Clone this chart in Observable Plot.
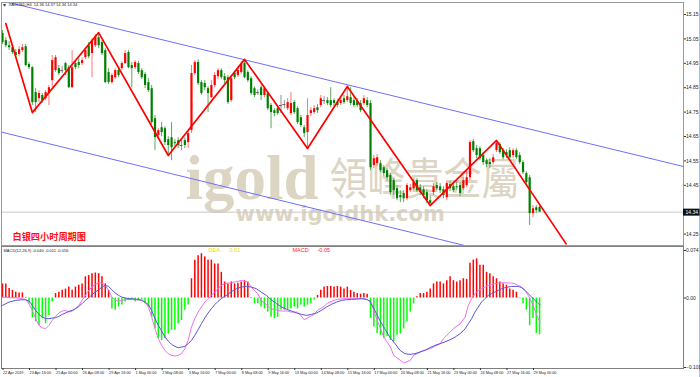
<!DOCTYPE html>
<html><head><meta charset="utf-8">
<script src="https://cdn.jsdelivr.net/npm/d3@7"></script>
<script src="https://cdn.jsdelivr.net/npm/@observablehq/plot@0.6"></script>
<style>
html,body{margin:0;padding:0;background:#fff;}
#wrap{position:relative;width:700px;height:377px;overflow:hidden;background:#fff;}
#wrap svg{position:absolute;left:0;}
#edge{position:absolute;left:699px;top:0;width:1px;height:377px;background:#a9c4e4;}
</style></head><body><div id="wrap"><div id="edge"></div></div>
<script>
// ---------- DATA ----------
const symbolHeader = "XAGUSD,H4  14.36 14.37 14.34 14.34";
const chartTitle = "白银四小时周期图";
const wmLogo = "igold", wmCn = "領峰貴金屬", wmUrl = "www.igoldhk.com";

const open = [15.072,15.043,15.022,15.014,14.994,14.986,15.002,15.018,14.945,14.932,14.830,14.805,14.818,14.805,14.826,14.879,14.920,14.928,14.920,14.949,14.932,14.850,14.949,14.953,14.949,14.973,15.022,14.990,15.022,15.055,15.035,15.002,14.912,14.871,14.891,14.920,14.928,14.949,14.994,14.941,14.932,14.949,14.920,14.904,14.871,14.846,14.723,14.654,14.686,14.682,14.637,14.645,14.625,14.633,14.613,14.633,14.625,14.674,14.908,14.953,14.871,14.867,14.846,14.809,14.859,14.895,14.920,14.895,14.891,14.797,14.908,14.900,14.912,14.949,14.912,14.887,14.846,14.830,14.850,14.818,14.826,14.777,14.756,14.764,14.777,14.781,14.764,14.744,14.789,14.764,14.727,14.686,14.666,14.744,14.748,14.768,14.777,14.797,14.797,14.797,14.797,14.789,14.785,14.805,14.797,14.809,14.797,14.793,14.785,14.785,14.797,14.785,14.531,14.539,14.539,14.522,14.510,14.490,14.469,14.436,14.408,14.416,14.395,14.428,14.436,14.469,14.440,14.432,14.420,14.387,14.420,14.449,14.444,14.432,14.399,14.453,14.444,14.444,14.449,14.436,14.449,14.481,14.629,14.600,14.600,14.572,14.551,14.543,14.543,14.592,14.617,14.592,14.584,14.592,14.572,14.592,14.572,14.543,14.498,14.481,14.334,14.358,14.36];
const high = [15.084,15.055,15.039,15.027,15.006,15.018,15.027,15.027,14.953,14.936,14.846,14.838,14.826,14.838,14.859,14.982,14.982,14.941,14.936,14.953,14.941,15.002,14.961,14.969,14.973,15.010,15.035,15.051,15.068,15.076,15.043,15.010,14.928,14.908,14.928,14.932,14.957,15.002,15.002,14.953,14.961,14.957,14.928,14.912,14.887,14.859,14.736,14.682,14.707,14.690,14.649,14.707,14.637,14.645,14.633,14.645,14.674,14.941,14.961,14.965,14.879,14.879,14.854,14.879,14.912,14.928,14.928,14.908,14.900,14.900,14.916,14.936,14.957,14.966,14.920,14.895,14.854,14.842,14.859,14.854,14.834,14.785,14.764,14.772,14.818,14.797,14.805,14.830,14.797,14.772,14.736,14.695,14.805,14.768,14.777,14.781,14.818,14.813,14.809,14.850,14.805,14.801,14.809,14.818,14.854,14.850,14.809,14.805,14.797,14.818,14.809,14.797,14.572,14.576,14.551,14.531,14.518,14.498,14.477,14.449,14.428,14.428,14.457,14.453,14.473,14.477,14.453,14.444,14.432,14.408,14.457,14.461,14.457,14.444,14.469,14.465,14.457,14.465,14.461,14.481,14.510,14.633,14.637,14.613,14.608,14.584,14.559,14.559,14.576,14.633,14.625,14.600,14.596,14.604,14.600,14.600,14.584,14.551,14.506,14.490,14.367,14.367,14.37];
const low = [15.027,15.014,15.002,14.986,14.973,14.977,14.994,14.936,14.924,14.777,14.748,14.789,14.785,14.797,14.777,14.850,14.912,14.900,14.908,14.900,14.846,14.846,14.924,14.928,14.941,14.965,14.969,14.891,15.014,15.010,14.982,14.867,14.863,14.863,14.883,14.891,14.920,14.945,14.928,14.850,14.924,14.904,14.883,14.846,14.830,14.699,14.592,14.641,14.649,14.613,14.572,14.551,14.608,14.600,14.592,14.600,14.600,14.662,14.900,14.859,14.818,14.838,14.748,14.805,14.850,14.883,14.883,14.867,14.781,14.789,14.883,14.891,14.904,14.887,14.871,14.818,14.809,14.818,14.797,14.809,14.756,14.682,14.731,14.736,14.744,14.764,14.756,14.736,14.740,14.699,14.686,14.645,14.600,14.731,14.740,14.744,14.768,14.781,14.777,14.768,14.772,14.768,14.777,14.781,14.789,14.777,14.768,14.768,14.748,14.777,14.768,14.510,14.518,14.526,14.502,14.486,14.469,14.408,14.408,14.387,14.379,14.379,14.387,14.420,14.428,14.420,14.408,14.395,14.375,14.367,14.408,14.428,14.416,14.395,14.387,14.424,14.420,14.428,14.403,14.428,14.440,14.469,14.584,14.559,14.551,14.531,14.522,14.518,14.535,14.584,14.576,14.555,14.559,14.555,14.559,14.555,14.535,14.494,14.449,14.285,14.317,14.334,14.34];
const close = [15.035,15.022,15.014,14.994,14.982,15.006,15.014,14.941,14.932,14.789,14.789,14.826,14.797,14.830,14.850,14.961,14.973,14.908,14.920,14.920,14.850,14.932,14.932,14.941,14.961,15.002,14.977,15.043,15.059,15.022,14.990,14.871,14.871,14.900,14.920,14.900,14.949,14.990,14.932,14.928,14.953,14.912,14.891,14.859,14.838,14.707,14.645,14.674,14.666,14.625,14.613,14.604,14.621,14.613,14.613,14.613,14.662,14.908,14.953,14.867,14.826,14.850,14.826,14.859,14.900,14.920,14.891,14.879,14.789,14.887,14.891,14.920,14.945,14.891,14.879,14.826,14.818,14.830,14.818,14.846,14.764,14.748,14.744,14.744,14.777,14.781,14.789,14.785,14.748,14.707,14.695,14.662,14.736,14.756,14.764,14.756,14.805,14.797,14.785,14.777,14.785,14.777,14.797,14.789,14.813,14.785,14.777,14.777,14.756,14.805,14.777,14.522,14.559,14.563,14.510,14.498,14.481,14.420,14.428,14.395,14.399,14.395,14.449,14.440,14.461,14.428,14.420,14.408,14.387,14.375,14.444,14.436,14.428,14.408,14.457,14.436,14.428,14.440,14.416,14.469,14.481,14.625,14.592,14.572,14.559,14.543,14.535,14.535,14.563,14.621,14.584,14.563,14.572,14.563,14.592,14.563,14.543,14.502,14.461,14.334,14.354,14.346,14.34];

// zigzag vertices [bar, price]
const zigzag = [[1,15.113],[9,14.748],[29,15.076],[50,14.572],[73,14.966],[92,14.601],[104,14.855],[129,14.367],[149,14.634],[170,14.21]];
// channel lines [bar, price]
const upperChannel = [[-1,15.209],[206,14.525]];
const lowerChannel = [[-0.3,14.668],[141,14.198]];

const priceTicks = [15.15,15.05,14.95,14.85,14.75,14.65,14.55,14.45,14.25];
const lastPrice = 14.34;

// MACD histogram per bar
const macdHist = [0.022,0.022,0.015,0.012,0.009,0.008,0.008,0.001,-0.009,-0.031,-0.037,-0.043,-0.032,-0.040,-0.027,-0.006,0.007,0.009,0.012,0.014,0.017,0.012,0.017,0.020,0.022,0.033,0.035,0.038,0.039,0.038,0.033,0.022,0.012,-0.017,-0.019,-0.014,-0.011,-0.006,-0.004,-0.004,-0.006,-0.004,-0.003,-0.009,-0.014,-0.030,-0.048,-0.063,-0.066,-0.063,-0.056,-0.050,-0.050,-0.040,-0.035,-0.019,-0.011,0.030,0.059,0.066,0.069,0.064,0.059,0.059,0.053,0.053,0.040,0.025,0.022,0.025,0.022,0.023,0.025,0.027,0.025,0.001,-0.009,-0.009,-0.014,-0.017,-0.022,-0.030,-0.032,-0.030,-0.019,-0.019,-0.019,-0.017,-0.014,-0.017,-0.011,-0.014,-0.011,-0.009,-0.003,0.004,0.012,0.017,0.018,0.018,0.017,0.018,0.017,0.014,0.017,0.012,0.009,0.007,0.006,0.007,0.006,-0.032,-0.045,-0.055,-0.058,-0.063,-0.060,-0.066,-0.068,-0.058,-0.056,-0.048,-0.037,-0.022,-0.009,0.002,0.007,0.007,0.009,0.014,0.022,0.025,0.025,0.022,0.027,0.033,0.027,0.025,0.027,0.030,0.029,0.054,0.059,0.061,0.051,0.051,0.040,0.038,0.033,0.030,0.025,0.022,0.020,0.014,0.012,0.009,-0.001,-0.009,-0.019,-0.043,-0.032,-0.055,-0.057];
// DIF line (magenta) [bar, value]
const difLine = [[0,0.0016],[2,0.0005],[4,0.0005],[6,-0.0010],[7,-0.0026],[8,-0.0088],[9,-0.0192],[10,-0.0321],[11,-0.0425],[12,-0.0461],[13,-0.0477],[14,-0.0425],[15,-0.0347],[16,-0.0285],[17,-0.0233],[18,-0.0202],[19,-0.0192],[20,-0.0218],[21,-0.0202],[22,-0.0166],[23,-0.0114],[24,-0.0036],[25,0.0041],[26,0.0119],[27,0.0171],[28,0.0213],[29,0.0233],[30,0.0233],[31,0.0197],[32,0.0119],[33,0.0016],[34,-0.0036],[35,-0.0047],[36,-0.0036],[37,-0.0026],[38,-0.0021],[40,-0.0026],[42,-0.0036],[43,-0.0062],[44,-0.0140],[45,-0.0295],[46,-0.0477],[47,-0.0632],[48,-0.0736],[49,-0.0814],[50,-0.0866],[51,-0.0892],[52,-0.0902],[53,-0.0892],[54,-0.0866],[55,-0.0788],[56,-0.0658],[57,-0.0451],[58,-0.0321],[59,-0.0218],[60,-0.0140],[61,-0.0062],[62,-0.0010],[63,0.0041],[64,0.0093],[65,0.0145],[66,0.0197],[67,0.0223],[68,0.0233],[69,0.0233],[70,0.0249],[71,0.0259],[72,0.0275],[74,0.0249],[75,0.0171],[77,0.0067],[78,-0.0036],[80,-0.0114],[81,-0.0166],[83,-0.0192],[84,-0.0202],[86,-0.0202],[87,-0.0218],[89,-0.0218],[90,-0.0270],[91,-0.0337],[92,-0.0311],[94,-0.0254],[95,-0.0192],[97,-0.0130],[98,-0.0078],[100,-0.0036],[101,-0.0021],[103,-0.0010],[106,-0.0010],[109,-0.0010],[110,-0.0021],[111,-0.0062],[112,-0.0192],[113,-0.0347],[114,-0.0477],[115,-0.0607],[117,-0.0762],[118,-0.0892],[120,-0.0969],[121,-0.1011],[123,-0.0969],[124,-0.0892],[126,-0.0840],[127,-0.0814],[129,-0.0788],[130,-0.0762],[132,-0.0710],[133,-0.0632],[135,-0.0529],[136,-0.0477],[138,-0.0400],[139.5,-0.0300],[140.5,-0.0114],[141.5,-0.0010],[142.5,0.0067],[143.5,0.0119],[144.5,0.0145],[145.5,0.0171],[146.5,0.0197],[147.5,0.0213],[148.5,0.0223],[149.5,0.0233],[151,0.0238],[153.5,0.0233],[154.5,0.0223],[155.6,0.0197],[156.6,0.0171],[157.6,0.0119],[158.6,0.0041],[159.6,-0.0062],[160.6,-0.0192],[161.6,-0.0321],[162.1,-0.0373]];
// DEA line (blue) [bar, value]
const deaLine = [[0,-0.0114],[2,-0.0062],[4,-0.0036],[6,-0.0026],[7,-0.0026],[8,-0.0047],[9,-0.0114],[10,-0.0192],[11,-0.0254],[12,-0.0295],[13,-0.0321],[14,-0.0321],[15,-0.0311],[16,-0.0306],[17,-0.0285],[18,-0.0254],[19,-0.0233],[20,-0.0207],[21,-0.0192],[22,-0.0166],[23,-0.0130],[24,-0.0088],[25,-0.0036],[26,0.0005],[27,0.0052],[28,0.0093],[29,0.0130],[30,0.0171],[31,0.0197],[32,0.0181],[33,0.0130],[34,0.0078],[35,0.0041],[36,0.0016],[37,0.0000],[38,-0.0010],[39,-0.0010],[40,-0.0016],[41,-0.0021],[42,-0.0036],[43,-0.0062],[44,-0.0104],[45,-0.0192],[46,-0.0321],[47,-0.0425],[48,-0.0513],[49,-0.0607],[50,-0.0669],[51,-0.0721],[52,-0.0752],[53,-0.0772],[54,-0.0762],[55,-0.0752],[56,-0.0710],[57,-0.0658],[58,-0.0581],[59,-0.0492],[60,-0.0399],[61,-0.0311],[62,-0.0233],[63,-0.0166],[64,-0.0104],[65,-0.0052],[66,-0.0010],[67,0.0026],[68,0.0057],[69,0.0100],[70.6,0.0145],[72,0.0171],[73.6,0.0181],[75,0.0171],[76.6,0.0145],[78,0.0093],[79.6,0.0041],[81,-0.0026],[82.7,-0.0088],[84.2,-0.0140],[85.7,-0.0176],[87.2,-0.0202],[88.7,-0.0233],[90.2,-0.0254],[91.7,-0.0270],[93.2,-0.0254],[94.7,-0.0233],[96.2,-0.0192],[97.7,-0.0140],[99.2,-0.0098],[100.8,-0.0062],[102.3,-0.0036],[103.8,-0.0026],[105.3,-0.0021],[106.8,-0.0016],[108.3,-0.0010],[109.8,-0.0021],[110.8,-0.0047],[111.8,-0.0140],[112.8,-0.0244],[113.8,-0.0347],[115.3,-0.0477],[116.8,-0.0607],[118.4,-0.0710],[119.9,-0.0814],[121.4,-0.0866],[122.9,-0.0876],[124.4,-0.0866],[125.9,-0.0840],[127.4,-0.0814],[128.9,-0.0772],[130.4,-0.0736],[131.9,-0.0710],[133.4,-0.0684],[135,-0.0648],[136.5,-0.0607],[138,-0.0555],[139.5,-0.0480],[140.5,-0.0399],[141.5,-0.0321],[142.5,-0.0218],[143.5,-0.0140],[144.5,-0.0062],[145.5,-0.0010],[146.5,0.0041],[147.5,0.0067],[148.5,0.0093],[149.5,0.0119],[150.5,0.0145],[151.5,0.0161],[152.5,0.0171],[153.5,0.0181],[155.6,0.0181],[156.6,0.0161],[157.6,0.0119],[158.6,0.0067],[159.6,0.0016],[160.6,-0.0036],[161.6,-0.0088],[162.1,-0.0104]];
const macdTicks = [0.074, 0, -0.108];
const macdTitle = "MACD(12,26,9) -0.040 -0.011 -0.056";
const deaLabel = "DEA:", deaValue = "0.01";
const macdLabel = "MACD:", macdValue = "-0.05";

const timeTickBars = [0,8,16,24,32,40,48,56,64,72,80,88,96,104,112,120,128,136,144,152,160];
const timeLabels = ["22 Apr 2019","23 Apr 16:00","25 Apr 00:00","26 Apr 08:00","29 Apr 16:00","1 May 00:00","2 May 08:00","3 May 16:00","7 May 00:00","8 May 08:00","9 May 16:00","13 May 00:00","14 May 08:00","15 May 16:00","17 May 00:00","20 May 08:00","21 May 16:00","23 May 00:00","24 May 08:00","27 May 16:00","29 May 00:00"];

// ---------- BUILD ----------
const X_DOMAIN = [-0.3, 205.4];
const FONT = "Liberation Sans, Arial, sans-serif";
const WM = "#ddd5c3";
const bars = close.map((c, i) => ({i, o: open[i], h: high[i], l: low[i], c}));
const bodyCol = d => d.c > d.o ? "#ff0000" : d.c < d.o ? "#008000" : "#707070";
const wickCol = d => d.c > d.o ? "#ff7676" : d.c < d.o ? "#5aaa5a" : "#909090";
const labelOf = new Map(timeTickBars.map((b, k) => [b, timeLabels[k]]));

const mainPlot = Plot.plot({
  width: 700, height: 246,
  marginTop: 2, marginBottom: 1, marginLeft: 1, marginRight: 17,
  x: {domain: X_DOMAIN, axis: null},
  y: {domain: [14.2033, 15.1992], axis: null},
  color: {type: "identity"},
  style: {background: "transparent", fontFamily: FONT, overflow: "visible"},
  marks: [
    Plot.text([wmLogo], {frameAnchor: "top-left", dx: 184, dy: 196, lineAnchor: "bottom", textAnchor: "start", fontSize: 63, fontWeight: "bold", fontFamily: "Liberation Serif, serif", fill: WM}),
    Plot.text([wmCn], {frameAnchor: "top-left", dx: 328, dy: 192, lineAnchor: "bottom", textAnchor: "start", fontSize: 44, fontFamily: "Noto Sans CJK TC", fill: WM}),
    Plot.text([wmUrl], {frameAnchor: "top-left", dx: 234, dy: 218, lineAnchor: "bottom", textAnchor: "start", fontSize: 21, fontWeight: "bold", fontFamily: "DejaVu Sans", fill: WM}),
    Plot.ruleY([lastPrice], {stroke: "#c8c8c8", strokeWidth: 1}),
    Plot.line(upperChannel, {x: d => d[0], y: d => d[1], stroke: "#6e6eff", strokeWidth: 1, clip: true}),
    Plot.line(lowerChannel, {x: d => d[0], y: d => d[1], stroke: "#6e6eff", strokeWidth: 1, clip: true}),
    Plot.ruleX(bars, {x: "i", y1: "l", y2: "h", stroke: wickCol, strokeWidth: 1}),
    Plot.ruleX(bars.filter(d => d.o !== d.c), {x: "i", y1: "o", y2: "c", stroke: bodyCol, strokeWidth: 2.2}),
    Plot.ruleY(bars.filter(d => d.o === d.c), {x1: d => d.i - 0.45, x2: d => d.i + 0.45, y: "o", stroke: "#606060"}),
    Plot.line(zigzag, {x: d => d[0], y: d => d[1], stroke: "#ff0000", strokeWidth: 1.7, clip: true}),
    Plot.frame({stroke: "#9a9a9a"}),
    Plot.axisY({anchor: "right", ticks: priceTicks, tickFormat: d3.format(".2f"), tickSize: 2, tickPadding: 0.5, fontSize: 5, fill: "#222", stroke: "#333"}),
    Plot.ruleY([lastPrice], {x1: X_DOMAIN[1], x2: X_DOMAIN[1] + 5, stroke: "#111", strokeWidth: 7, clip: false}),
    Plot.text([lastPrice], {y: d => d, frameAnchor: "right", dx: 2, textAnchor: "start", text: d => d.toFixed(2), fill: "#fff", fontSize: 5}),
    Plot.text(["▾"], {frameAnchor: "top-left", dx: 1, dy: 2.5, lineAnchor: "middle", textAnchor: "start", fontSize: 6, fill: "#444"}),
    Plot.text([symbolHeader], {frameAnchor: "top-left", dx: 7, dy: 2.5, lineAnchor: "middle", textAnchor: "start", fontSize: 4, fill: "#222"}),
    Plot.text([chartTitle], {frameAnchor: "bottom-left", dx: 11, dy: -8, lineAnchor: "middle", textAnchor: "start", fontSize: 9.2, fontWeight: "bold", fontFamily: "Noto Sans CJK SC", fill: "#ff1010"})
  ]
});
d3.select(mainPlot).selectAll("text").filter(function() { return this.textContent === wmCn; })
  .attr("textLength", 190).attr("lengthAdjust", "spacingAndGlyphs");
mainPlot.style.top = "0px";

const macdPlot = Plot.plot({
  width: 700, height: 131,
  marginTop: 0, marginBottom: 9, marginLeft: 1, marginRight: 17,
  x: {domain: X_DOMAIN, axis: null},
  y: {domain: [-0.1096, 0.0802], axis: null},
  color: {type: "identity"},
  style: {background: "transparent", fontFamily: FONT, overflow: "visible"},
  marks: [
    Plot.ruleX(macdHist, {x: (d, i) => i, y1: 0, y2: d => d, stroke: d => d >= 0 ? "#ff0000" : "#00ff00", strokeWidth: 1.5}),
    Plot.line(difLine, {x: d => d[0], y: d => d[1], stroke: "#f06ef0", strokeWidth: 1, clip: true}),
    Plot.line(deaLine, {x: d => d[0], y: d => d[1], stroke: "#5656d8", strokeWidth: 1, clip: true}),
    Plot.frame({stroke: "#808080"}),
    Plot.axisY({anchor: "right", ticks: macdTicks, tickFormat: d => d === 0 ? "0.00" : d3.format(".3f")(d), tickSize: 2, tickPadding: 0.5, fontSize: 5, fill: "#222", stroke: "#333"}),
    Plot.axisX({anchor: "bottom", ticks: timeTickBars, tickFormat: d => labelOf.get(d), tickSize: 2, tickPadding: 1, fontSize: 3.8, textAnchor: "start", dx: 0.5, fill: "#222", stroke: "#333"}),
    Plot.text([macdTitle], {frameAnchor: "top-left", dx: 2, dy: 4, lineAnchor: "middle", textAnchor: "start", fontSize: 4, fill: "#222"}),
    Plot.text([deaLabel], {frameAnchor: "top-left", dx: 207, dy: 4, lineAnchor: "middle", textAnchor: "start", fontSize: 5.5, fill: "#e8e000"}),
    Plot.text([deaValue], {frameAnchor: "top-left", dx: 228, dy: 4, lineAnchor: "middle", textAnchor: "start", fontSize: 5.5, fill: "#e8e000"}),
    Plot.text([macdLabel], {frameAnchor: "top-left", dx: 291, dy: 4, lineAnchor: "middle", textAnchor: "start", fontSize: 5.5, fill: "#ff2020"}),
    Plot.text([macdValue], {frameAnchor: "top-left", dx: 316, dy: 4, lineAnchor: "middle", textAnchor: "start", fontSize: 5.5, fill: "#ff2020"})
  ]
});
macdPlot.style.top = "246px";

const wrap = document.getElementById("wrap");
wrap.appendChild(mainPlot);
wrap.appendChild(macdPlot);
</script></body></html>
